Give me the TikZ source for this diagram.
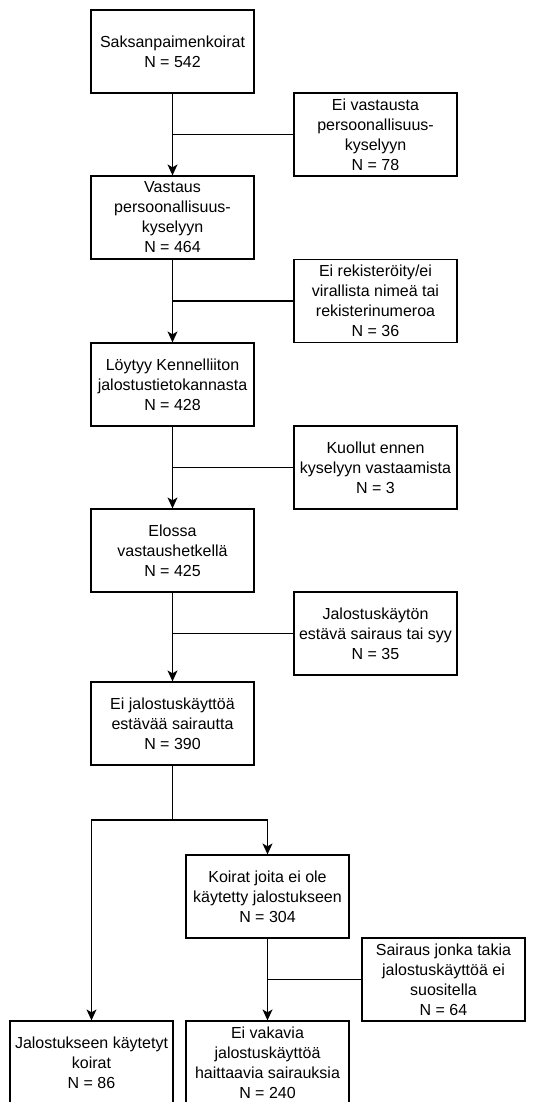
\documentclass[tikz,border=0pt]{standalone}
\usepackage{fontspec}
\setmainfont{Liberation Sans}
\usepackage{tikz}
\usetikzlibrary{arrows.meta,positioning}

\begin{document}
\begin{tikzpicture}
		[x=1pt, y=-1pt, font=\fontsize{16}{20}\selectfont,
		mainbox/.style	= {rectangle,draw,line width=1.2pt,inner sep=0pt,minimum width=163pt,minimum height=83pt,align=center},
		sidebox/.style	= {mainbox},
		paths/.style	= {-{Stealth[length=11pt,width=10pt,inset=3pt]}, line width=1.2pt},
		joins/.style	= {line width=1.2pt}]
		
		\clip (0,0) rectangle (535,1102);
		
		\node at (172.5, 51.5)		[mainbox]	(all)		{Saksanpaimenkoirat\\N = 542};
		\node at (172.5, 217.5)		[mainbox]	(answ)		{Vastaus\\persoonallisuus-\\kyselyyn\\N = 464};
		\node at (172.5, 384.5)		[mainbox]	(found)		{Löytyy Kennelliiton\\jalostustietokannasta\\N = 428};
		\node at (172.5, 550.5)		[mainbox]	(alive)		{Elossa\\vastaushetkellä\\N = 425};
		\node at (172.5, 723.5)		[mainbox]	(healthy)	{Ei jalostuskäyttöä\\estävää sairautta\\N = 390};
		
		\node at (267.5, 896.5)		[mainbox]	(notused)	{Koirat joita ei ole\\käytetty jalostukseen\\N = 304};
		\node at (91.5, 1062.5)		[mainbox]	(used)		{Jalostukseen käytetyt\\koirat\\N = 86};
		\node at (267.5, 1062.5)	[mainbox]	(final)		{Ei vakavia\\jalostuskäyttöä\\haittaavia sairauksia\\N = 240};
		
		\node at (375.5, 134.5)		[sidebox]	(noansw)	{Ei vastausta\\persoonallisuus-\\kyselyyn\\N = 78};
		\node at (375.5, 301)		[sidebox]	(noreg)		{Ei rekisteröity/ei\\virallista nimeä tai\\rekisterinumeroa\\N = 36};
		\node at (375.5, 467.5)		[sidebox]	(dead)		{Kuollut ennen\\kyselyyn vastaamista\\N = 3};
		\node at (375.5, 633.5)		[sidebox]	(ill)		{Jalostuskäytön\\estävä sairaus tai syy\\N = 35};
		\node at (443.5, 979.5)		[sidebox]	(notrec)	{Sairaus jonka takia\\jalostuskäyttöä ei\\suositella\\N = 64};
		
		\coordinate (split) at (172.5, 820);
		
		\draw [paths] (all) -- (answ);
		\draw [paths] (answ) -- (found);
		\draw [paths] (found) -- (alive);
		\draw [paths] (alive) -- (healthy);
		\draw [paths] (notused) -- (final);
		
		\draw [joins] (noansw.west) -- (noansw.west -| all);
		\draw [joins] (noreg.west) -- (noreg.west -| all);
		\draw [joins] (dead.west) -- (dead.west -| all);
		\draw [joins] (ill.west) -- (ill.west -| all);
		\draw [joins] (notrec.west) -- (notrec.west -| notused);
		
		\draw [joins] (healthy) -- (split);
		\draw [paths] (split) -| (used);
		\draw [paths] (split) -| (notused);
		
		\end{tikzpicture}
\end{document}
